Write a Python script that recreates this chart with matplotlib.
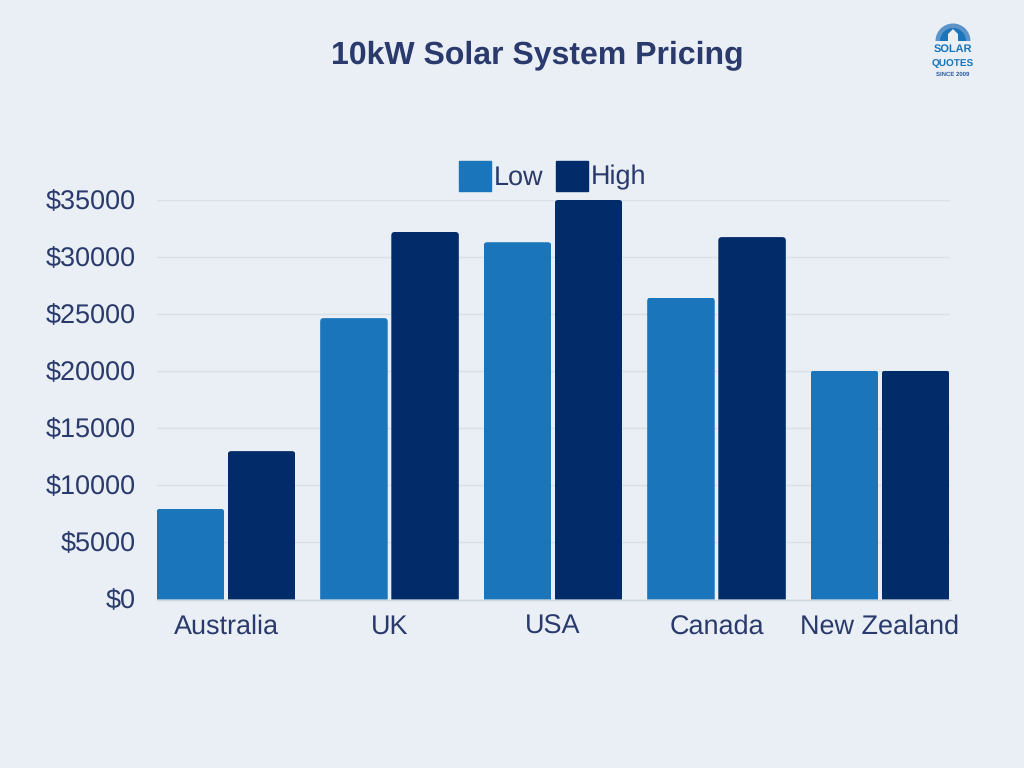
import matplotlib
matplotlib.use('Agg')
import matplotlib.pyplot as plt
from matplotlib.patches import PathPatch, Rectangle, Wedge, Polygon
from matplotlib.path import Path
from matplotlib.transforms import Affine2D
import numpy as np

countries = ['Australia', 'UK', 'USA', 'Canada', 'New Zealand']
low = [7950, 24650, 31300, 26450, 20050]
high = [13000, 32200, 35000, 31750, 20050]
yticks = [0, 5000, 10000, 15000, 20000, 25000, 30000, 35000]

BG = '#e9eff4'
INK = '#2a3a6c'
LOW = '#1a75bb'
HIGH = '#022c69'
W, H = 1024.0, 768.0

plt.rcParams['font.family'] = ['Liberation Sans', 'DejaVu Sans']
plt.rcParams['text.hinting'] = 'no_hinting'
plt.rcParams['text.hinting_factor'] = 1

fig = plt.figure(figsize=(10.24, 7.68), dpi=100, facecolor=BG)
# plot area in pixels: x 157-950, y 200-599.5
ax = fig.add_axes([157 / W, 1 - 599.5 / H, (950 - 157) / W, 399.5 / H])
ax.set_facecolor(BG)

x = np.arange(len(countries))
bar_w = 0.413
off = 0.2175
ax.set_xlim(-0.422, 4.428)
ax.set_ylim(0, 35000)

b1 = ax.bar(x - off, low, bar_w, color=LOW, zorder=3, label='Low')
b2 = ax.bar(x + off, high, bar_w, color=HIGH, zorder=3, label='High')


# round the top corners of a bar by clipping it
def round_top(bar, r_px=3.5):
    rx = r_px / 163.5
    ry = r_px * 35000 / 399.5
    x0, w, h = bar.get_x(), bar.get_width(), bar.get_height()
    x1 = x0 + w
    verts = [(x0, 0), (x0, h - ry), (x0, h), (x0 + rx, h), (x1 - rx, h), (x1, h),
             (x1, h - ry), (x1, 0), (x0, 0)]
    codes = [Path.MOVETO, Path.LINETO, Path.CURVE3, Path.CURVE3, Path.LINETO,
             Path.CURVE3, Path.CURVE3, Path.LINETO, Path.CLOSEPOLY]
    clip = PathPatch(Path(verts, codes), transform=ax.transData)
    bar.set_clip_path(clip)


for b in list(b1) + list(b2):
    round_top(b)

ax.set_yticks(yticks)
ax.set_yticklabels(['$%d' % v for v in yticks])
ax.set_xticks(x)
ax.set_xticklabels(countries, va='baseline')
ax.tick_params(axis='both', length=0, labelsize=19.2, labelcolor=INK)
ax.tick_params(axis='y', pad=15.1)
ax.tick_params(axis='x', pad=24.5)
for t in ax.get_yticklabels():
    t.set_transform(t.get_transform() + Affine2D().translate(0, 1))
ax.grid(axis='y', color='#d9e0e7', lw=1, zorder=0)
ax.set_axisbelow(True)
for s in ['top', 'right', 'left']:
    ax.spines[s].set_visible(False)
ax.spines['bottom'].set_color('#cfd7df')
ax.spines['bottom'].set_linewidth(1)
ax.spines['bottom'].set_zorder(4)

handles = [Rectangle((0, 0), 1, 1, color=LOW), Rectangle((0, 0), 1, 1, color=HIGH)]
fig.legend(handles, ['Low', 'High'], loc='center', bbox_to_anchor=(552.5 / W, 1 - 176 / H),
           ncol=2, frameon=False, fontsize=19.2, labelcolor=INK, borderpad=0,
           handlelength=1.22, handleheight=1.4, handletextpad=0.1, columnspacing=0.45)

fig.text(537 / W, 1 - 55.5 / H, '10kW Solar System Pricing', ha='center', va='center',
         fontsize=23.4, fontweight='bold', color=INK)

# logo, drawn in pixel coordinates
logo = fig.add_axes([0, 0, 1, 1], facecolor='none')
logo.set_xlim(0, W)
logo.set_ylim(H, 0)
logo.axis('off')
logo.add_patch(Wedge((953, 41), 17.5, 180, 360, color='#5c93c9', lw=0))
logo.add_patch(Wedge((953, 41), 13, 180, 360, color='#1a75bb', lw=0))
logo.add_patch(Polygon([(948, 41), (948, 34), (953, 29), (958, 34), (958, 41)], color=BG, lw=0))
logo.text(953, 49.5, 'SOLAR', ha='center', va='center', fontsize=8.2, fontweight='bold',
          color='#1a75bb')
logo.text(953, 63, 'QUOTES', ha='center', va='center', fontsize=7, fontweight='bold',
          color='#1a75bb')
logo.text(953, 74, 'SINCE 2009', ha='center', va='center', fontsize=4.2, fontweight='bold',
          color='#2c5aa0')

fig.savefig('out.png', dpi=100, facecolor=BG)
